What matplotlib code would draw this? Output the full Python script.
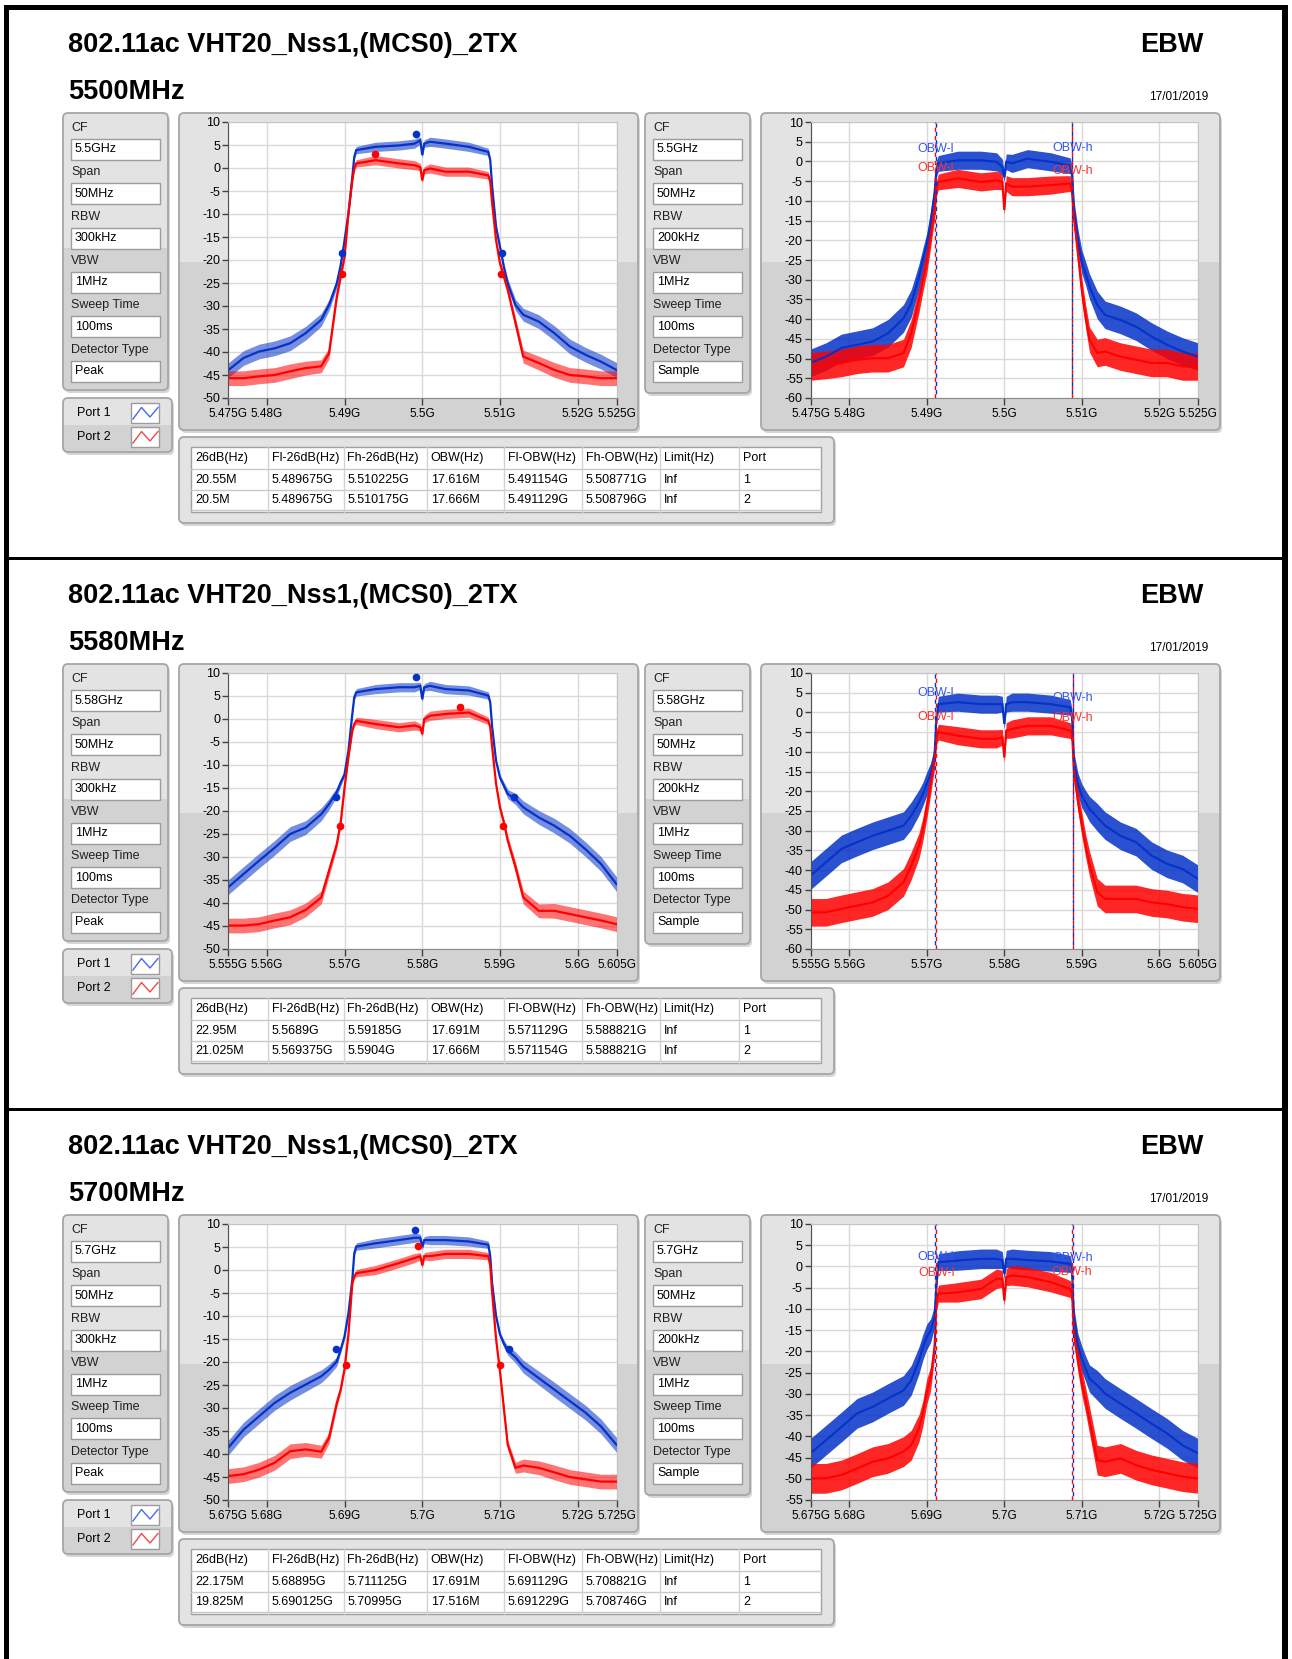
import numpy as np
import matplotlib.pyplot as plt
from matplotlib.patches import FancyBboxPatch, Rectangle

plt.rcParams['font.family'] = ['Liberation Sans', 'DejaVu Sans']

# sample points of the traces, MHz away from the centre frequency
OFFSET_MHZ = [-25, -23, -21, -19, -17, -15, -13, -12, -11, -10.5, -10, -9.5, -9,
              -8.75, -8.5, -6, -3, -1, -0.25, 0, 0.25, 1, 3, 6, 8.5, 8.75, 9, 9.5,
              10, 10.5, 11, 12, 13, 15, 17, 19, 21, 23, 25]

CF_MHZ = [5500, 5580, 5700]
FREQ_TITLE = ["5500MHz", "5580MHz", "5700MHz"]
CF_TEXT = ["5.5GHz", "5.58GHz", "5.7GHz"]
RIGHT_YMIN = [-60, -60, -55]

# peak detector traces (left charts), dBm
PEAK_P1 = [
    [-44, -41.3, -39.9, -39.2, -38.1, -35.9, -33, -29.8, -25.1, -21.1, -15.7, -9.9, -1.9,
     2.4, 3.9, 4.6, 4.9, 5.3, 6, 2.8, 5.3, 5.7, 5.3, 4.6, 3.5, 1.7, -4.1, -12.8,
     -17.1, -21.5, -25.1, -29.8, -31.9, -33.4, -35.9, -38.8, -40.6, -42.1, -43.9],
    [-36.6, -33.7, -30.8, -28, -25, -23.6, -20.7, -18.5, -15.9, -13.8, -12, -6.9, 1.1,
     4.7, 5.8, 6.5, 6.9, 6.9, 7.2, 4.3, 6.9, 7.2, 6.5, 6.2, 5.1, 3.6, -1.8, -9.1,
     -12.7, -14.5, -16.3, -17.4, -19.2, -21.4, -23.2, -25.4, -28.3, -31.5, -35.9],
    [-38.7, -34.7, -31.8, -28.9, -26.7, -24.9, -23.1, -21.7, -19.9, -17.3, -14.4, -9.4, -2.1,
     3.6, 5.1, 5.8, 6.5, 7, 7, 5, 6.5, 6.5, 6.5, 6.2, 5.5, 3, -3, -10,
     -14, -16, -17.5, -19, -21, -23.5, -26, -28.5, -31, -34, -38],
]
PEAK_P2 = [
    [-45.7, -45.7, -45.3, -45, -44.2, -43.5, -43.1, -40.3, -28, -23.6, -19.3, -9.9, -2.7,
     -0.1, 1, 1.7, 1, 0.6, 0.2, -2.7, -0.5, -0.1, -0.8, -0.8, -1.6, -3, -7.7, -15.7,
     -20.7, -23.6, -26.5, -33.7, -41, -42.4, -43.9, -45, -45.3, -45.7, -45.7],
    [-44.9, -44.9, -44.6, -43.8, -43.1, -41.5, -38.8, -33, -27.2, -22.5, -14.9, -8.3, -2.5,
     -1.1, -0.4, -1.1, -1.8, -1.4, -1.8, -3.3, 0, 0.7, 1.1, 1.4, -0.4, -1.8, -6.2, -14.1,
     -19.2, -22.5, -26.4, -32.2, -38.8, -41.7, -41.7, -42.4, -43.1, -43.8, -44.6],
    [-44.8, -44.4, -43.4, -41.9, -39.4, -39, -39.5, -36.5, -28.9, -26, -21.5, -14, -2.9,
     -1.4, -0.7, 0, 1.5, 2.6, 3, 1, 3, 3, 3.5, 3.5, 3, 1, -5, -15,
     -22, -30, -38, -43, -42.5, -43, -44, -45, -45.5, -46, -46],
]
# sample detector traces (right charts), dBm
SAMP_P1 = [
    [-51.1, -49.5, -47.3, -46.5, -45.7, -43.6, -39.8, -36, -29.2, -25, -21.2, -15.3, -8.1,
     -1.8, -0.5, 0.3, 0.3, -0.1, -1.4, -3.9, -0.1, -0.5, 0.7, -0.1, -1.1, -3.1, -12.3, -19.9,
     -25.4, -28.4, -31.7, -36.4, -38.9, -40.2, -41.9, -44.4, -46.5, -48.2, -49.5],
    [-41.4, -38, -34.6, -32.9, -31.3, -30, -28.7, -26.2, -22.8, -20.7, -18.1, -15.6, -11,
     -1.2, 2.1, 2.6, 2.1, 2.1, 2.1, -2.9, 2.1, 2.6, 2.6, 2.1, 1.3, -1.2, -12.7, -18.1,
     -21.1, -22.8, -24.5, -26.6, -28.7, -31.3, -32.9, -36.3, -38.4, -39.7, -42.2],
    [-44, -40.9, -37.8, -34.6, -33.1, -31.1, -29.2, -26.8, -22.1, -19, -16.6, -15.1, -11.9,
     -4.1, 1, 1.4, 1.8, 1.8, 1.5, -1.7, 1.8, 1.8, 1.5, 1.2, 0.6, -1.4, -12.3, -18.6,
     -21.7, -24.1, -26.4, -28, -29.9, -32.3, -34.6, -37, -39.3, -42.1, -44],
]
SAMP_P2 = [
    [-52, -51.6, -51.1, -50.3, -49.9, -49.9, -48.6, -43.6, -35.1, -30.1, -25.4, -19.1, -12.3,
     -6.9, -5.2, -4.3, -5.2, -4.8, -5.2, -12.3, -5.6, -6.4, -6.4, -6, -5.6, -7.7, -14.5, -23.3,
     -32.6, -39.3, -45.2, -48.6, -48.2, -49.5, -50.3, -51.1, -51.1, -52, -52],
    [-50.7, -50.7, -49.8, -49, -48.2, -46.5, -43.1, -38.9, -33.8, -29.6, -24.1, -18.1, -11.8,
     -6.3, -5, -5.9, -6.7, -6.7, -6.3, -11.4, -4.6, -4.2, -3.4, -3.4, -4.6, -5.5, -15.2, -22.4,
     -28.3, -33.8, -38.4, -45.6, -47.3, -47.3, -47.3, -48.2, -48.6, -49.4, -49.8],
    [-49.9, -49.9, -49.1, -47.6, -46, -45.2, -43.6, -42.1, -38.1, -34.6, -29.5, -26.4, -19,
     -8.4, -6.4, -6.1, -5.3, -2.9, -2.9, -8, -2.5, -2.1, -2.5, -3.7, -5.3, -6.4, -15.8, -22.1,
     -27.2, -31.5, -36.2, -45.6, -46, -45.2, -46.8, -47.9, -48.7, -49.5, -49.9],
]
# half width of the noise band seen on each detector (dB)
SPREAD_PEAK = [1.6, 1.6, 1.6, 1.6, 1.6, 1.5, 1.4, 1.2, 1.0, 0.8, 0.6, 0.5, 0.5, 0.5, 0.8, 1.0,
               1.0, 1.0, 0.8, 0.6, 0.8, 1.0, 1.0, 1.0, 0.8, 0.5, 0.5, 0.5, 0.6, 0.8, 1.0, 1.2,
               1.4, 1.5, 1.6, 1.6, 1.6, 1.6, 1.6]
SPREAD_SAMPLE = [3.5, 3.5, 3.5, 3.5, 3.5, 3.5, 3.5, 3.5, 3.2, 3.0, 3.0, 2.8, 2.5, 2.0, 2.0, 2.3,
                 2.3, 2.3, 2.0, 1.2, 2.0, 2.3, 2.3, 2.3, 2.0, 2.0, 2.5, 2.8, 3.0, 3.0, 3.2, 3.5,
                 3.5, 3.5, 3.5, 3.5, 3.5, 3.5, 3.5]

# peak markers (port 1, port 2)
PEAK_GHZ = [[5.4992, 5.4939], [5.5792, 5.5849], [5.6991, 5.6995]]
PEAK_DB = [[7.5, 3.0], [9.1, 2.7], [8.8, 5.3]]

# result table (port 1, port 2)
BW26_MHZ = [[20.55, 20.5], [22.95, 21.025], [22.175, 19.825]]
FL26_GHZ = [[5.489675, 5.489675], [5.5689, 5.569375], [5.68895, 5.690125]]
FH26_GHZ = [[5.510225, 5.510175], [5.59185, 5.5904], [5.711125, 5.70995]]
OBW_MHZ = [[17.616, 17.666], [17.691, 17.666], [17.691, 17.516]]
FLOBW_GHZ = [[5.491154, 5.491129], [5.571129, 5.571154], [5.691129, 5.691229]]
FHOBW_GHZ = [[5.508771, 5.508796], [5.588821, 5.588821], [5.708821, 5.708746]]
# level of the OBW-l / OBW-h captions (port 1, port 2)
OBW_LABEL_DB = [[[3.2, 3.4], [-1.6, -2.4]],
                [[5.0, 3.7], [-1.1, -1.3]],
                [[2.2, 2.0], [-1.6, -1.4]]]

HEADERS = ["26dB(Hz)", "Fl-26dB(Hz)", "Fh-26dB(Hz)", "OBW(Hz)", "Fl-OBW(Hz)",
           "Fh-OBW(Hz)", "Limit(Hz)", "Port"]
SETTING_NAMES = ["CF", "Span", "RBW", "VBW", "Sweep Time", "Detector Type"]
LEFT_SETTINGS = ["50MHz", "300kHz", "1MHz", "100ms", "Peak"]
RIGHT_SETTINGS = ["50MHz", "200kHz", "1MHz", "100ms", "Sample"]

TITLE = "802.11ac VHT20_Nss1,(MCS0)_2TX"
DATE = "17/01/2019"

BLUE = '#0532c8'
RED = '#ff0000'
LIGHT = '#e3e3e3'
DARK = '#d2d2d2'

W, H = 1292, 1659
fig = plt.figure(figsize=(W / 100, H / 100), dpi=100)
bg = fig.add_axes([0, 0, 1, 1])
bg.set_xlim(0, W)
bg.set_ylim(H, 0)
bg.axis('off')

SECTION_Y = [0, 551, 1102]
COL_EDGES = [191, 267.6, 343.5, 426.7, 503.9, 582, 660, 739, 820.5]


def box(x0, y0, x1, y1, split=None):
    style = 'round,pad=0,rounding_size=5'
    bg.add_patch(FancyBboxPatch((x0 + 2, y0 + 3), x1 - x0, y1 - y0, boxstyle=style,
                                fc='#c4c4c4', ec='none', alpha=0.7))
    p = FancyBboxPatch((x0, y0), x1 - x0, y1 - y0, boxstyle=style, fc=LIGHT, ec='none')
    bg.add_patch(p)
    if split is not None:
        r = Rectangle((x0, split), x1 - x0, y1 - split, fc=DARK, ec='none')
        bg.add_patch(r)
        r.set_clip_path(p)
    bg.add_patch(FancyBboxPatch((x0, y0), x1 - x0, y1 - y0, boxstyle=style,
                                fc='none', ec='#a6a6a6', lw=1.3))


def entry(x0, y0, x1, y1, text):
    bg.add_patch(Rectangle((x0, y0), x1 - x0, y1 - y0, fc='white', ec='#9c9c9c', lw=1))
    bg.text(x0 + 4, (y0 + y1) / 2, text, fontsize=9, va='center', ha='left')


def settings(x0, dy, values):
    for k, name in enumerate(SETTING_NAMES):
        ly = 128 + 44.3 * k + dy
        bg.text(x0, ly, name, fontsize=9, va='center', ha='left', color='#202020')
        entry(x0, ly + 11, x0 + 89, ly + 32, values[k])


def spectrum_axes(x0, y0, x1, y1, cf, ymin):
    ax = fig.add_axes([x0 / W, 1 - y1 / H, (x1 - x0) / W, (y1 - y0) / H])
    ax.set_facecolor('white')
    ax.set_xlim(cf - 25, cf + 25)
    ax.set_ylim(ymin, 10)
    ticks = [cf - 25, cf - 20, cf - 10, cf, cf + 10, cf + 20, cf + 25]
    ax.set_xticks(ticks)
    ax.set_xticklabels([f'{t / 1000:g}G' for t in ticks], fontsize=8.5)
    yt = list(range(ymin, 11, 5))
    ax.set_yticks(yt)
    ax.set_yticklabels([str(v) for v in yt], fontsize=9)
    ax.grid(True, color='#d9d9d9', lw=1)
    ax.set_axisbelow(True)
    ax.tick_params(axis='y', direction='out', length=4, width=1, color='#404040', pad=1.5)
    ax.tick_params(axis='x', direction='out', length=5, width=1, color='#404040', pad=2)
    ax.spines['left'].set_color('#505050')
    ax.spines['bottom'].set_color('#8a8a8a')
    ax.spines['top'].set_color('#c4c4c4')
    ax.spines['right'].set_color('#c4c4c4')
    return ax


def draw_traces(ax, cf, p1, p2, spread, band_alpha, core_lw):
    f = cf + np.array(OFFSET_MHZ)
    s = np.array(spread)
    for vals, col in ((p1, BLUE), (p2, RED)):
        v = np.array(vals)
        ax.fill_between(f, v - s, v + s, color=col, lw=0, alpha=band_alpha)
        ax.plot(f, v, color=col, lw=core_lw, solid_joinstyle='miter')


# outer frame and section separators
bg.add_patch(Rectangle((4, 5), 1284, 5, fc='black', ec='none'))
bg.add_patch(Rectangle((4, 5), 5, H, fc='black', ec='none'))
bg.add_patch(Rectangle((1282, 5), 6, H, fc='black', ec='none'))
for sy in (557, 1108):
    bg.add_patch(Rectangle((4, sy), 1284, 2.5, fc='black', ec='none'))

for i, dy in enumerate(SECTION_Y):
    cf = CF_MHZ[i]
    bg.text(68, 45 + dy, TITLE, fontsize=19.5, fontweight='bold', va='center', ha='left')
    bg.text(68, 92 + dy, FREQ_TITLE[i], fontsize=19.5, fontweight='bold', va='center', ha='left')
    bg.text(1203, 45 + dy, "EBW", fontsize=19.5, fontweight='bold', va='center', ha='right')
    bg.text(1208, 97 + dy, DATE, fontsize=8.5, va='center', ha='right')

    # settings panels
    box(63, 113 + dy, 168, 390 + dy, split=248 + dy)
    settings(71, dy, [CF_TEXT[i]] + LEFT_SETTINGS)
    box(645, 113 + dy, 750, 393 + dy, split=248 + dy)
    settings(653, dy, [CF_TEXT[i]] + RIGHT_SETTINGS)

    # port legend
    box(63, 398 + dy, 172, 452 + dy, split=425 + dy)
    for k, (name, col) in enumerate((("Port 1", '#4868f0'), ("Port 2", '#f04848'))):
        yc = 413 + 24 * k + dy
        bg.text(111, yc, name, fontsize=9, va='center', ha='right')
        bg.add_patch(Rectangle((131, yc - 10), 28, 20, fc='white', ec='#9c9c9c', lw=1))
        bg.plot([133, 141.5, 150, 158], [yc + 6, yc - 5.5, yc + 4, yc - 5.5], color=col, lw=1)

    # chart frames
    box(179, 113 + dy, 638, 430 + dy, split=262 + dy)
    box(761, 113 + dy, 1220, 430 + dy, split=262 + dy)

    # result table
    box(179, 437 + dy, 834, 523 + dy)
    bg.add_patch(Rectangle((191, 447 + dy), 629.5, 65, fc='white', ec='#a0a0a0', lw=1))
    for ry in (469, 490, 510):
        bg.plot([191, 820.5], [ry + dy, ry + dy], color='#c8c8c8', lw=1)
    for cx in COL_EDGES[1:-1]:
        bg.plot([cx, cx], [447 + dy, 512 + dy], color='#d2d2d2', lw=1)
    rows = [HEADERS]
    for p in range(2):
        rows.append([f'{BW26_MHZ[i][p]}M', f'{FL26_GHZ[i][p]}G', f'{FH26_GHZ[i][p]}G',
                     f'{OBW_MHZ[i][p]}M', f'{FLOBW_GHZ[i][p]}G', f'{FHOBW_GHZ[i][p]}G',
                     'Inf', str(p + 1)])
    for r, row in enumerate(rows):
        yc = [458, 480, 500][r] + dy
        for c, txt in enumerate(row):
            bg.text(COL_EDGES[c] + 4, yc, txt, fontsize=9, va='center', ha='left')

    # peak detector chart
    ax = spectrum_axes(228, 122 + dy, 616.5, 398 + dy, cf, -50)
    draw_traces(ax, cf, PEAK_P1[i], PEAK_P2[i], SPREAD_PEAK, 0.55, 1.6)
    for p, col in enumerate((BLUE, RED)):
        lvl = PEAK_DB[i][p]
        ax.plot([PEAK_GHZ[i][p] * 1000, FL26_GHZ[i][p] * 1000, FH26_GHZ[i][p] * 1000],
                [lvl, lvl - 26, lvl - 26], 'o', ms=4.5, color=col, zorder=5)

    # sample detector chart with OBW limits
    ax = spectrum_axes(810.5, 122 + dy, 1198, 398 + dy, cf, RIGHT_YMIN[i])
    draw_traces(ax, cf, SAMP_P1[i], SAMP_P2[i], SPREAD_SAMPLE, 0.85, 1.5)
    for p, (col, txt_col) in enumerate(((RED, '#ff3030'), (BLUE, '#3656f0'))):
        port = 1 - p
        for fx, lab, k in ((FLOBW_GHZ[i][port], 'OBW-l', 0), (FHOBW_GHZ[i][port], 'OBW-h', 1)):
            ax.axvline(fx * 1000, color=col, lw=1, ls=(3 * p, (3, 3)), zorder=4)
            ax.text(fx * 1000, OBW_LABEL_DB[i][port][k], lab, color=txt_col, fontsize=9,
                    ha='center', va='center', zorder=6)

fig.savefig('out.png', dpi=100)
